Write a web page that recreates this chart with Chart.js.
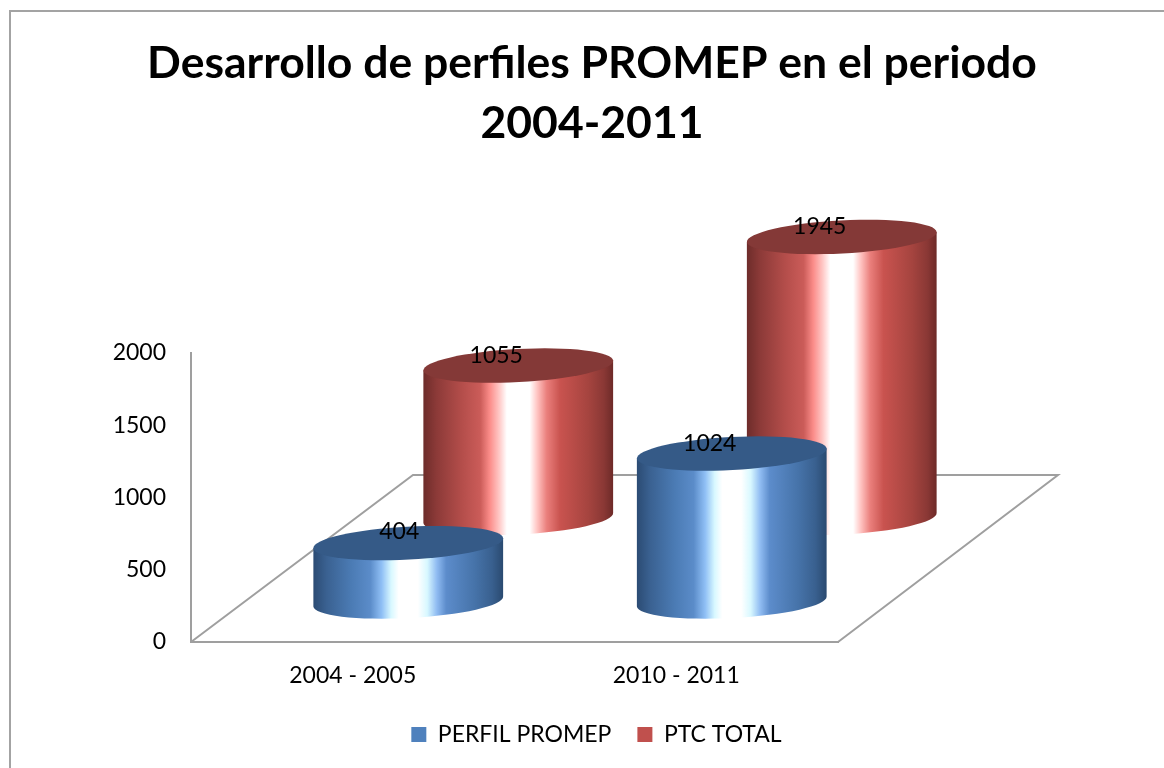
<!DOCTYPE html>
<html><head><meta charset="utf-8">
<style>
html,body{margin:0;padding:0;background:#fff;overflow:hidden;width:1164px;height:768px}
#frame{position:absolute;left:9px;top:10px;width:1300px;height:900px;border-left:2px solid #a3a3a3;border-top:2px solid #a3a3a3}
#c{position:absolute;left:-2px;top:-2px}
</style>
</head><body>
<div id="frame"><canvas id="c" width="1166" height="746"></canvas></div>
<script src="https://cdn.jsdelivr.net/npm/chart.js@4"></script>
<script>
const categories = ['2004 - 2005', '2010 - 2011'];
const perfilPromep = [404, 1024];
const ptcTotal = [1055, 1945];
const seriesNames = ['PERFIL PROMEP', 'PTC TOTAL'];
const titleLines = ['Desarrollo de perfiles PROMEP en el periodo', '2004-2011'];

const FONT = 'Lato, Carlito, sans-serif';
const AXIS = '#9f9f9f';
const TILT = -0.052, RY = 16.5;
const looks = [
  { dx: 55.5, dy: 40.5, top: '#355a87',
    stops: [[0,'#2b4b73'],[.07,'#3a6191'],[.2,'#4b7bb4'],[.3,'#5b8cc9'],[.36,'#8fbff5'],[.41,'#d8f8ff'],[.45,'#ffffff'],[.55,'#ffffff'],[.6,'#d8f8ff'],[.65,'#90bcf2'],[.7,'#5c8ccb'],[.85,'#4673a9'],[.94,'#39608f'],[1,'#2a4a70']] },
  { dx: 165.5, dy: 124, top: '#843937',
    stops: [[0,'#6d2c2a'],[.07,'#8c3a38'],[.2,'#b34d4a'],[.3,'#cb5c59'],[.35,'#fb8c89'],[.4,'#ffc8c6'],[.44,'#ffffff'],[.56,'#ffffff'],[.6,'#ffc4c2'],[.65,'#ea7f7c'],[.72,'#c9534f'],[.87,'#a5443f'],[.95,'#8a3835'],[1,'#6d2a28']] }
];

const cylinders = {
  id: 'cylinders',
  afterLayout(chart) { chart.legend.left += 4.5; chart.legend.right += 4.5; },
  beforeDatasetsDraw(chart) {
    const x = chart.scales.x, y = chart.scales.y, c = chart.ctx;
    const L = x.left, R = x.right, B = y.bottom, ddx = 222, ddy = 167;
    c.save();
    c.strokeStyle = AXIS; c.lineWidth = 2; c.lineJoin = 'miter';
    c.beginPath();
    c.moveTo(L, B);
    c.lineTo(L + ddx, B - ddy);
    c.lineTo(R + ddx - 2, B - ddy);
    c.lineTo(R, B);
    c.stroke();
    c.restore();
  },
  beforeDatasetDraw(chart, args) {
    const meta = chart.getDatasetMeta(args.index), look = looks[args.index], c = chart.ctx;
    meta.data.forEach((bar) => {
      const cx = bar.x + look.dx, rx = bar.width / 2;
      const topY = bar.y - look.dy, baseY = bar.base - look.dy;
      const ex = rx * Math.cos(TILT), ey = rx * Math.sin(TILT);
      const g = c.createLinearGradient(cx - rx, 0, cx + rx, 0);
      look.stops.forEach(s => g.addColorStop(s[0], s[1]));
      c.save();
      c.fillStyle = g;
      c.beginPath();
      c.ellipse(cx, baseY, rx, RY, TILT, 0, Math.PI);
      c.lineTo(cx - ex, topY - ey);
      c.lineTo(cx + ex, topY + ey);
      c.closePath();
      c.fill();
      c.fillStyle = look.top;
      c.beginPath();
      c.ellipse(cx, topY, rx, RY, TILT, 0, Math.PI * 2);
      c.fill();
      c.restore();
    });
    return false;
  },
  afterDatasetsDraw(chart) {
    const c = chart.ctx;
    c.save();
    c.font = '23px ' + FONT; c.fillStyle = '#000'; c.textAlign = 'center'; c.textBaseline = 'middle';
    chart.data.datasets.forEach((ds, d) => {
      chart.getDatasetMeta(d).data.forEach((bar, i) => {
        const t = String(ds.data[i]);
        c.fillText(t, bar.x + looks[d].dx + (t.length === 3 ? -9 : -22), bar.y - looks[d].dy - (t.length === 3 ? 12 : 10));
      });
    });
    c.restore();
  }
};

new Chart(document.getElementById('c'), {
  type: 'bar',
  data: {
    labels: categories,
    datasets: [
      { label: seriesNames[0], data: perfilPromep, backgroundColor: '#4f81bd', grouped: false, categoryPercentage: 1, barPercentage: 0.5873 },
      { label: seriesNames[1], data: ptcTotal, backgroundColor: '#c0504d', grouped: false, categoryPercentage: 1, barPercentage: 0.5873 }
    ]
  },
  plugins: [cylinders],
  options: {
    responsive: false, animation: false,
    plugins: {
      tooltip: { enabled: false },
      title: { display: true, text: titleLines, color: '#000',
        font: { family: FONT, size: 44.5, weight: 'bold', lineHeight: 60 / 44.5 },
        padding: { top: 24, bottom: 199 } },
      legend: { position: 'bottom',
        labels: { color: '#000', boxWidth: 15, boxHeight: 15, padding: 26, font: { family: FONT, size: 23 } } }
    },
    scales: {
      x: { grid: { display: false, drawTicks: false }, border: { color: AXIS, width: 2 },
        ticks: { color: '#000', padding: 20, font: { family: FONT, size: 23 }, maxRotation: 0 },
        afterFit(s) { s.height = 55; } },
      y: { min: 0, max: 2000, grid: { display: false, drawTicks: false }, border: { color: AXIS, width: 2 },
        ticks: { color: '#000', stepSize: 500, padding: 25, font: { family: FONT, size: 23 }, callback: v => String(v) },
        afterFit(s) { s.width = 182; } },
      rightGutter: { type: 'linear', axis: 'y', position: 'right', display: true,
        grid: { display: false, drawTicks: false }, border: { display: false }, ticks: { display: false },
        afterFit(s) { s.width = 337; } }
    }
  }
});
</script>
</body></html>
